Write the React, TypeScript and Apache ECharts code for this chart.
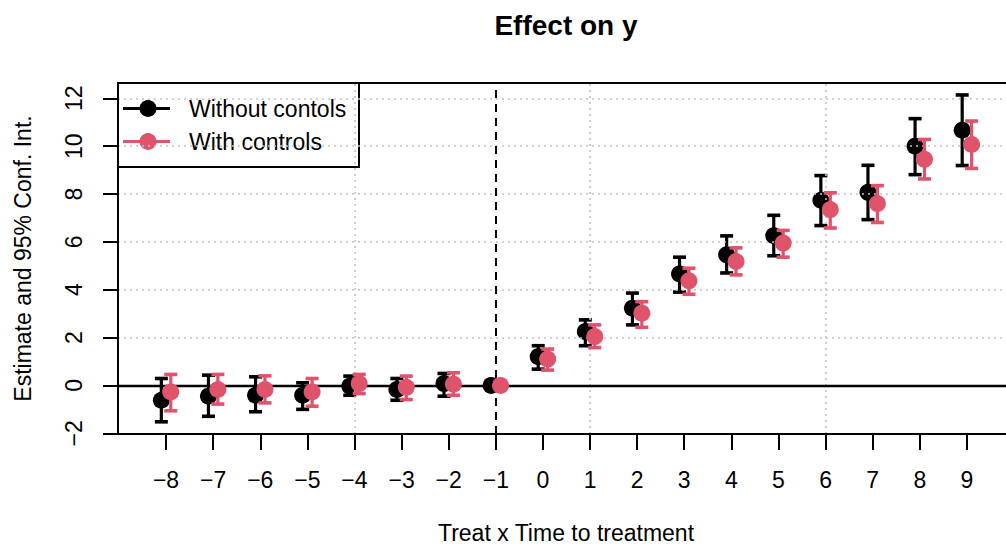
import React, { useEffect, useRef } from "react";
import * as echarts from "echarts";

// Event-study coefficients by period relative to treatment (period -1 is the reference)
const periods = [-8, -7, -6, -5, -4, -3, -2, -1, 0, 1, 2, 3, 4, 5, 6, 7, 8, 9];

const estNoCtrl = [-0.62, -0.45, -0.41, -0.41, -0.03, -0.17, 0.08, 0, 1.2, 2.25, 3.23, 4.66, 5.46, 6.26, 7.74, 8.07, 10.0, 10.67];
const loNoCtrl = [-1.52, -1.29, -1.1, -1.0, -0.41, -0.62, -0.45, 0, 0.68, 1.66, 2.53, 3.9, 4.7, 5.42, 6.68, 6.93, 8.81, 9.19];
const hiNoCtrl = [0.29, 0.43, 0.36, 0.11, 0.39, 0.29, 0.5, 0, 1.66, 2.74, 3.86, 5.36, 6.25, 7.11, 8.77, 9.2, 11.15, 12.14];

const estCtrl = [-0.27, -0.17, -0.17, -0.27, 0.08, -0.08, 0.05, 0, 1.1, 2.04, 3.02, 4.37, 5.18, 5.95, 7.35, 7.6, 9.45, 10.07];
const loCtrl = [-1.06, -0.78, -0.73, -0.87, -0.34, -0.59, -0.41, 0, 0.64, 1.58, 2.43, 3.81, 4.62, 5.36, 6.58, 6.81, 8.63, 9.07];
const hiCtrl = [0.46, 0.46, 0.4, 0.29, 0.46, 0.39, 0.53, 0, 1.52, 2.53, 3.5, 4.9, 5.75, 6.48, 8.05, 8.35, 10.28, 11.05];

const yTicks = [-2, 0, 2, 4, 6, 8, 10, 12];
const xGrid = [-4, 1, 6];
const refPeriod = -1;

const seriesNames = ["Without contols", "With controls"];
const colors = ["#000000", "#DF536B"];
const dodge = 0.1;

const FONT = "'Liberation Sans', Arial, Helvetica, sans-serif";
const FS = 23;

// plot frame (its right edge runs past the canvas)
const PLOT = { left: 118, top: 83, width: 896, height: 351 };
const W = 1006;
const H = 544;

const fmtMinus = (v: number) => (v < 0 ? "\u2212" + Math.abs(v) : String(v));

function barData(lo: number[], hi: number[], shift: number) {
  const out: number[][] = [];
  periods.forEach((p, i) => {
    if (lo[i] !== hi[i]) out.push([p + shift, lo[i], hi[i]]);
  });
  return out;
}

function pointData(est: number[], shift: number) {
  return periods.map((p, i) => [p + shift, est[i]]);
}

function errorBars(color: string) {
  return (params: any, api: any) => {
    const x = api.value(0);
    const top = api.coord([x, api.value(2)]);
    const bot = api.coord([x, api.value(1)]);
    const hw = 6.5;
    const st = { stroke: color, lineWidth: 3.2 };
    return {
      type: "group",
      children: [
        { type: "line", shape: { x1: top[0], y1: top[1], x2: bot[0], y2: bot[1] }, style: st },
        { type: "line", shape: { x1: top[0] - hw, y1: top[1], x2: top[0] + hw, y2: top[1] }, style: { ...st, lineWidth: 3.6 } },
        { type: "line", shape: { x1: bot[0] - hw, y1: bot[1], x2: bot[0] + hw, y2: bot[1] }, style: { ...st, lineWidth: 3.6 } },
      ],
    };
  };
}

export default function App() {
  const ref = useRef<HTMLDivElement>(null);

  useEffect(() => {
    if (!ref.current) return;
    const chart = echarts.init(ref.current, null, { renderer: "svg" });

    const legendRows = [108.5, 141.5];

    chart.setOption({
      animation: false,
      backgroundColor: "#ffffff",
      textStyle: { fontFamily: FONT, color: "#000" },
      title: {
        text: "Effect on y",
        left: 566,
        top: 11,
        textAlign: "center",
        padding: 0,
        textStyle: { fontFamily: FONT, fontSize: 28, fontWeight: "bold", color: "#000" },
      },
      grid: { ...PLOT, show: false, containLabel: false, outerBoundsMode: "none" },
      xAxis: {
        type: "value",
        min: -9.02,
        max: 10,
        name: "Treat x Time to treatment",
        nameLocation: "middle",
        nameGap: 87,
        nameTextStyle: { fontFamily: FONT, fontSize: FS, color: "#000" },
        axisLine: { show: false, onZero: false },
        splitLine: { show: false },
        axisTick: { show: true, customValues: periods, length: 16, lineStyle: { color: "#000", width: 2 } },
        axisLabel: {
          customValues: periods,
          margin: 34,
          fontFamily: FONT,
          fontSize: FS,
          color: "#000",
          formatter: (v: number) => fmtMinus(v),
        },
      },
      yAxis: {
        type: "value",
        min: -2.03,
        max: 12.64,
        name: "Estimate and 95% Conf. Int.",
        nameLocation: "middle",
        nameGap: 84,
        nameRotate: 90,
        nameTextStyle: { fontFamily: FONT, fontSize: FS, color: "#000" },
        axisLine: { show: false, onZero: false },
        splitLine: { show: false },
        axisTick: { show: true, customValues: yTicks, length: 15, lineStyle: { color: "#000", width: 2 } },
        axisLabel: {
          customValues: yTicks,
          rotate: 90,
          margin: 33,
          fontFamily: FONT,
          fontSize: FS,
          color: "#000",
          formatter: (v: number) => fmtMinus(v),
        },
      },
      series: [
        {
          // light dotted reference grid
          type: "line",
          data: [],
          z: 1,
          silent: true,
          markLine: {
            silent: true,
            symbol: "none",
            label: { show: false },
            lineStyle: { color: "#c4c4c4", type: [2, 4], width: 1.6 },
            data: [...yTicks.map((v) => ({ yAxis: v })), ...xGrid.map((v) => ({ xAxis: v }))],
          },
        },
        {
          // zero line and treatment onset
          type: "line",
          data: [],
          z: 2,
          silent: true,
          markLine: {
            silent: true,
            symbol: "none",
            label: { show: false },
            data: [
              { yAxis: 0, lineStyle: { color: "#000", type: "solid", width: 2.4 } },
              { xAxis: refPeriod, lineStyle: { color: "#000", type: [8, 6], width: 2 } },
            ],
          },
        },
        {
          name: seriesNames[0] + " CI",
          type: "custom",
          z: 3,
          renderItem: errorBars(colors[0]),
          encode: { x: 0, y: [1, 2] },
          data: barData(loNoCtrl, hiNoCtrl, -dodge),
        },
        {
          name: seriesNames[0],
          type: "scatter",
          z: 4,
          symbol: "circle",
          symbolSize: 17,
          itemStyle: { color: colors[0], opacity: 1 },
          data: pointData(estNoCtrl, -dodge),
        },
        {
          name: seriesNames[1] + " CI",
          type: "custom",
          z: 5,
          renderItem: errorBars(colors[1]),
          encode: { x: 0, y: [1, 2] },
          data: barData(loCtrl, hiCtrl, dodge),
        },
        {
          name: seriesNames[1],
          type: "scatter",
          z: 6,
          symbol: "circle",
          symbolSize: 17,
          itemStyle: { color: colors[1], opacity: 1 },
          data: pointData(estCtrl, dodge),
        },
      ],
      graphic: [
        {
          // plot frame
          type: "rect",
          z: 100,
          silent: true,
          shape: { x: PLOT.left, y: PLOT.top, width: PLOT.width, height: PLOT.height },
          style: { fill: "none", stroke: "#000", lineWidth: 2 },
        },
        {
          type: "group",
          z: 100,
          children: [
            {
              type: "rect",
              shape: { x: 118, y: 83, width: 241, height: 84 },
              style: { fill: "none", stroke: "#000", lineWidth: 2 },
            },
            ...seriesNames.flatMap((name, i) => [
              {
                type: "line",
                shape: { x1: 123, y1: legendRows[i], x2: 170, y2: legendRows[i] },
                style: { stroke: colors[i], lineWidth: 3.2 },
              },
              {
                type: "circle",
                shape: { cx: 148, cy: legendRows[i], r: 8.5 },
                style: { fill: colors[i] },
              },
              {
                type: "text",
                x: 189,
                y: legendRows[i],
                style: {
                  text: name,
                  fill: "#000",
                  font: `${FS}px ${FONT}`,
                  verticalAlign: "middle",
                  align: "left",
                },
              },
            ]),
          ],
        },
      ],
    });

    return () => chart.dispose();
  }, []);

  return (
    <div
      ref={ref}
      style={{ position: "fixed", left: 0, top: 0, width: W, height: H, background: "#fff", overflow: "hidden" }}
    />
  );
}
